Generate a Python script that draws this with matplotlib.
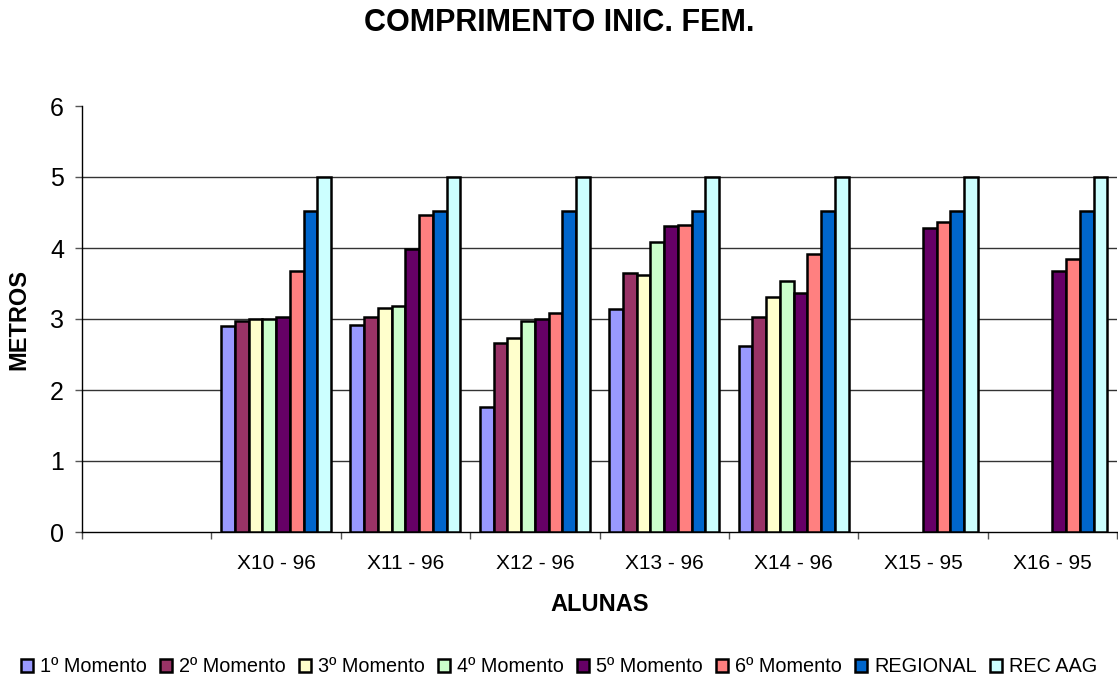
import numpy as np
import matplotlib
matplotlib.use("Agg")
import matplotlib.pyplot as plt

plt.rcParams['font.family'] = ['Liberation Sans', 'DejaVu Sans']

categories = ["", "X10 - 96", "X11 - 96", "X12 - 96", "X13 - 96", "X14 - 96", "X15 - 95", "X16 - 95"]
series_names = ["1º Momento", "2º Momento", "3º Momento", "4º Momento",
                "5º Momento", "6º Momento", "REGIONAL", "REC AAG"]
nan = np.nan
m1 = [nan, 2.90, 2.92, 1.76, 3.14, 2.62, nan, nan]
m2 = [nan, 2.97, 3.03, 2.66, 3.65, 3.03, nan, nan]
m3 = [nan, 3.00, 3.16, 2.73, 3.62, 3.31, nan, nan]
m4 = [nan, 3.00, 3.19, 2.97, 4.08, 3.54, nan, nan]
m5 = [nan, 3.03, 3.98, 3.00, 4.31, 3.36, 4.28, 3.68]
m6 = [nan, 3.68, 4.46, 3.08, 4.33, 3.92, 4.36, 3.85]
regional = [nan, 4.52, 4.52, 4.52, 4.52, 4.52, 4.52, 4.52]
rec_aag = [nan, 5.0, 5.0, 5.0, 5.0, 5.0, 5.0, 5.0]
series = [m1, m2, m3, m4, m5, m6, regional, rec_aag]
colors = ["#9999FF", "#993366", "#FFFFCC", "#CCFFCC", "#660066", "#FF8080", "#0066CC", "#CCFFFF"]

fig = plt.figure(figsize=(11.18, 6.82), dpi=100)
ax = fig.add_axes([82/1118, 1-532/682, (1117-82)/1118, (532-106)/682])

x = np.arange(len(categories))
n = len(series)
group = 0.85
w = group / n
handles = []
for i, (vals, c, name) in enumerate(zip(series, colors, series_names)):
    off = -group/2 + w*(i+0.5)
    h = ax.bar(x + off, vals, width=w, color=c, edgecolor="black", linewidth=1.8, label=name, zorder=3)
    handles.append(h)

ax.set_xlim(-0.5, len(categories)-0.5)
ax.set_ylim(0, 6)
ax.set_yticks(range(0, 7))
ax.tick_params(axis='y', direction='out', length=5, width=1, color='#555555', labelsize=18, pad=8)
ax.set_xticks(x)
ax.set_xticklabels(categories)
ax.tick_params(axis='x', which='major', length=0, labelsize=15, pad=16)
ax.set_xticks(np.arange(-0.5, len(categories)), minor=True)
ax.tick_params(axis='x', which='minor', direction='out', length=5, width=1, color='#555555')

for y in range(1, 6):
    ax.axhline(y, color='#333333', linewidth=1.0, zorder=1)

for s in ['top', 'right']:
    ax.spines[s].set_visible(False)
ax.spines['left'].set_color('black')
ax.spines['bottom'].set_color('black')
ax.spines['left'].set_linewidth(1.0)
ax.spines['bottom'].set_linewidth(1.0)

ax.set_xlabel("ALUNAS", fontsize=17, fontweight='bold', labelpad=14)
ax.set_ylabel("METROS", fontsize=17, fontweight='bold', labelpad=14)
fig.text(0.5, 1-23/682, "COMPRIMENTO INIC. FEM.", fontsize=22, fontweight='bold', ha='center', va='center')

fig.legend(handles=handles, labels=series_names, loc='center', bbox_to_anchor=(0.5, 1-667/682),
           ncol=8, frameon=False, fontsize=14.3, handlelength=0.6, handleheight=0.6,
           handletextpad=0.35, columnspacing=0.67, borderaxespad=0)

fig.savefig("out.png", dpi=100)
